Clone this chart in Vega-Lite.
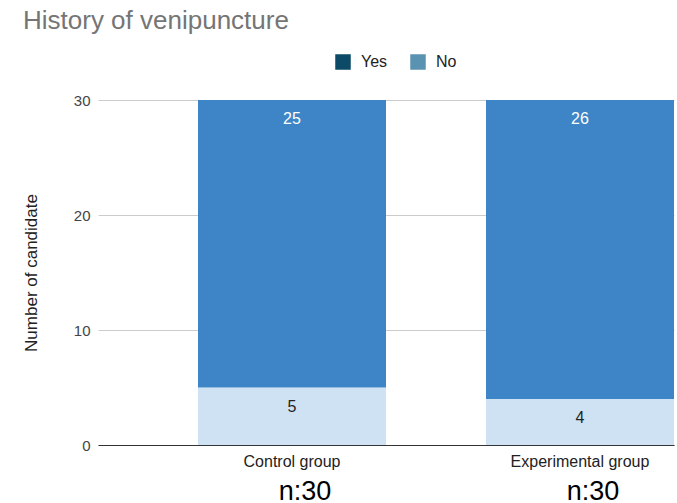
{
  "$schema": "https://vega.github.io/schema/vega-lite/v6.json",
  "width": 576,
  "height": 345,
  "autosize": {"type": "none"},
  "padding": {"left": 98, "top": 100, "right": 3, "bottom": 58},
  "background": "white",
  "title": {
    "text": "History of venipuncture",
    "anchor": "start",
    "frame": "group",
    "fontSize": 26,
    "fontWeight": "normal",
    "font": "Liberation Sans",
    "color": "#757575",
    "dx": -75,
    "offset": 20
  },
  "data": {
    "values": [
      {"group": "Control group", "answer": "Yes", "count": 5},
      {"group": "Control group", "answer": "No", "count": 25},
      {"group": "Experimental group", "answer": "Yes", "count": 4},
      {"group": "Experimental group", "answer": "No", "count": 26}
    ]
  },
  "layer": [
    {
      "mark": {"type": "bar"},
      "encoding": {
        "x": {
          "field": "group",
          "type": "nominal",
          "sort": null,
          "title": null,
          "scale": {"paddingInner": 0.3472, "paddingOuter": 0.1736, "align": 1},
          "axis": {
            "labelAngle": 0,
            "labelFontSize": 16,
            "labelColor": "#222222",
            "labelPadding": 8,
            "ticks": false,
            "domainColor": "#333333",
            "domainWidth": 1,
            "grid": false
          }
        },
        "y": {
          "field": "count",
          "type": "quantitative",
          "stack": "zero",
          "scale": {"domain": [0, 30]},
          "title": "Number of candidate",
          "axis": {
            "values": [0, 10, 20, 30],
            "labelFontSize": 15,
            "labelColor": "#444444",
            "labelPadding": 8,
            "ticks": false,
            "domain": false,
            "gridColor": "#cccccc",
            "titleFontSize": 17,
            "titleFontWeight": "normal",
            "titleColor": "#222222",
            "titlePadding": 33
          }
        },
        "fill": {
          "field": "answer",
          "type": "nominal",
          "scale": {"domain": ["No", "Yes"], "range": ["#3d85c6", "#cfe2f3"]},
          "legend": null
        },
        "order": {"field": "answer", "sort": "descending"}
      }
    },
    {
      "transform": [{"filter": "false"}],
      "mark": {"type": "square", "filled": true, "opacity": 1},
      "encoding": {
        "x": {"field": "group", "type": "nominal", "sort": null, "axis": null},
        "y": {"field": "count", "type": "quantitative", "stack": null},
        "color": {
          "field": "answer",
          "type": "nominal",
          "scale": {"domain": ["Yes", "No"], "range": ["#0c4a67", "#5a92b1"]},
          "legend": {
            "title": null,
            "orient": "none",
            "legendX": 237,
            "legendY": -46,
            "direction": "horizontal",
            "symbolType": "square",
            "symbolSize": 240,
            "symbolStrokeWidth": 0,
            "symbolOpacity": 1,
            "labelFontSize": 16,
            "labelColor": "#222222",
            "labelOffset": 10,
            "columnPadding": 22,
            "padding": 0
          }
        }
      }
    },
    {
      "mark": {"type": "text", "baseline": "middle", "dy": 19, "fontSize": 16},
      "encoding": {
        "x": {
          "field": "group",
          "type": "nominal",
          "sort": null,
          "title": null,
          "axis": {
            "orient": "bottom",
            "labelExpr": "'n:30'",
            "labelAngle": 0,
            "labelFontSize": 27,
            "labelColor": "#000000",
            "labelPadding": 33,
            "labelBaseline": "top",
            "labelOffset": 13,
            "domain": false,
            "ticks": false,
            "grid": false
          }
        },
        "y": {"field": "count", "type": "quantitative", "stack": "zero"},
        "text": {"field": "count", "type": "quantitative"},
        "order": {"field": "answer", "sort": "descending"},
        "color": {
          "condition": {"test": "datum.answer === 'No'", "value": "#ffffff"},
          "value": "#222222"
        }
      }
    }
  ],
  "resolve": {"axis": {"x": "independent"}},
  "config": {
    "font": "Liberation Sans",
    "view": {"stroke": null}
  }
}
